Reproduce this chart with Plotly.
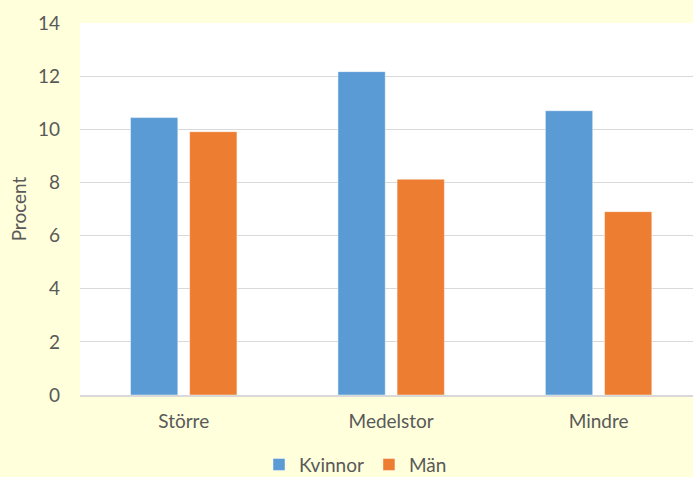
import plotly.graph_objects as go

categories = ["Större", "Medelstor", "Mindre"]
kvinnor = [10.44, 12.17, 10.70]
man = [9.91, 8.12, 6.90]
series_names = ["Kvinnor", "Män"]
y_ticks = [0, 2, 4, 6, 8, 10, 12, 14]

FONT = "Lato"
TXT = "#595959"
FS = 19

fig = go.Figure()
fig.add_trace(go.Bar(x=categories, y=kvinnor, name=series_names[0],
                     marker=dict(color="#5B9BD5", line=dict(color="rgba(255,255,255,0.45)", width=1))))
fig.add_trace(go.Bar(x=categories, y=man, name=series_names[1],
                     marker=dict(color="#ED7D31", line=dict(color="rgba(255,255,255,0.45)", width=1))))

fig.update_layout(
    width=693, height=477,
    margin=dict(l=80, r=0, t=23, b=82),
    paper_bgcolor="#FFFFDC",
    plot_bgcolor="#FFFFFF",
    barmode="group",
    bargap=0.43,
    bargroupgap=0.2,
    font=dict(family=FONT, size=FS, color=TXT),
    legend=dict(orientation="h", xref="container", x=0.513, xanchor="center",
                yref="container", y=0.026, yanchor="middle",
                font=dict(family=FONT, size=FS, color=TXT),
                itemwidth=30, bgcolor="rgba(0,0,0,0)", traceorder="normal"),
    xaxis=dict(range=[-0.5, 2.455], showgrid=False, showline=True, linecolor="#D9D9D9", linewidth=1.5,
               ticks="", ticklabelstandoff=8, tickfont=dict(size=FS, color=TXT)),
    yaxis=dict(range=[0, 14], tickvals=y_ticks, showgrid=True, gridcolor="#D9D9D9",
               gridwidth=1.3, zeroline=False, showline=False, ticks="",
               ticklabelstandoff=19, tickfont=dict(size=FS, color=TXT),
               title=dict(text="Procent", font=dict(size=FS, color=TXT), standoff=6)),
)

fig.write_html("out.html", config={"displayModeBar": False},
               post_script="document.body.style.margin='0';document.body.style.background='#FFFFDC';")
